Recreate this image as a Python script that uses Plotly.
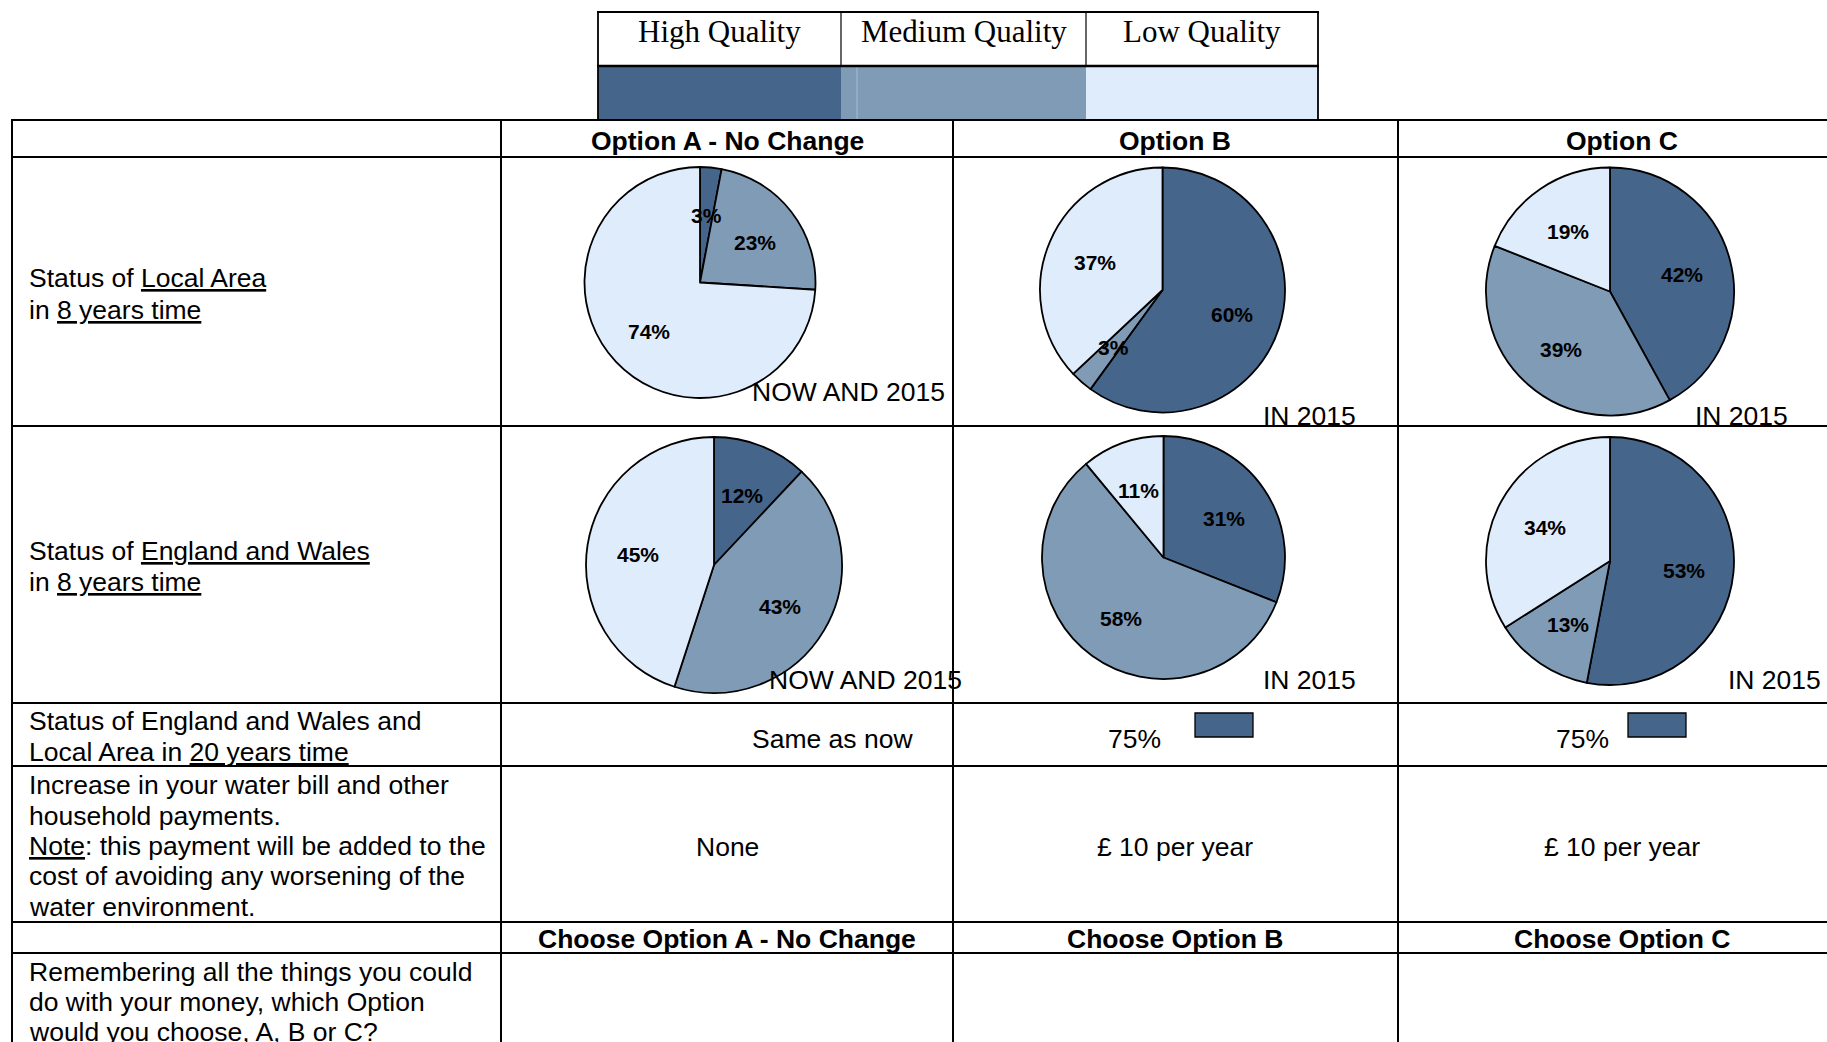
import math
import plotly.graph_objects as go

W, H = 1827, 1042

# ---------------- data ----------------
categories = ["High Quality", "Medium Quality", "Low Quality"]
colors = ["#46658A", "#7F9BB6", "#DFECFC"]

options = ["Option A - No Change", "Option B", "Option C"]
choose_labels = ["Choose Option A - No Change", "Choose Option B", "Choose Option C"]
captions = ["NOW AND 2015", "IN 2015", "IN 2015"]

local_A = [3, 23, 74]
local_B = [60, 3, 37]
local_C = [42, 39, 19]
ew_A = [12, 43, 45]
ew_B = [31, 58, 11]
ew_C = [53, 13, 34]

twenty_year = ["Same as now", "75%", "75%"]
bill = ["None", "£ 10 per year", "£ 10 per year"]

row_labels = [
    ["Status of <u>Local Area</u>", "in <u>8 years time</u>"],
    ["Status of <u>England and Wales</u>", "in <u>8 years time</u>"],
    ["Status of England and Wales and", "Local Area in <u>20 years time</u>"],
    ["Increase in your water bill and other", "household payments.",
     "<u>Note</u>: this payment will be added to the",
     "cost of avoiding any worsening of the", "water environment."],
    ["Remembering all the things you could", "do with your money, which Option",
     "would you choose, A, B or C?"],
]

# ---------------- layout geometry (pixels) ----------------
def X(x):
    return x / W

def Y(y):
    return 1 - y / H

SANS = "Liberation Sans, Arial, sans-serif"
SERIF = "Liberation Serif, Times New Roman, serif"
FS = 26.5

pies = [
    (local_A, 700, 282.5, 115.5, captions[0], (848.5, 392)),
    (local_B, 1162.5, 290, 122.5, captions[1], (1309, 416)),
    (local_C, 1610, 291.5, 124, captions[2], (1741.5, 416)),
    (ew_A, 714, 565, 128, captions[0], (865, 680)),
    (ew_B, 1163.5, 557.5, 121.5, captions[1], (1309, 680)),
    (ew_C, 1610, 561, 124, captions[2], (1774, 680)),
]

fig = go.Figure()
annotations = []
shapes = []

def text(x, y, s, size=FS, family=SANS, xanchor="center"):
    annotations.append(dict(
        x=X(x), y=Y(y), xref="paper", yref="paper", text=s, showarrow=False,
        xanchor=xanchor, yanchor="middle",
        font=dict(family=family, size=size, color="black")))

for vals, cx, cy, r, cap, cpos in pies:
    fig.add_trace(go.Pie(
        values=vals, labels=categories, sort=False, direction="clockwise",
        rotation=0, textinfo="none", hoverinfo="label+percent",
        marker=dict(colors=colors, line=dict(color="black", width=1.8)),
        domain=dict(x=[X(cx - r), X(cx + r)], y=[Y(cy + r), Y(cy - r)]),
        showlegend=False))
    total = sum(vals)
    cum = 0
    for v in vals:
        mid = (cum + v / 2) / total * 2 * math.pi
        cum += v
        f = 0.6
        lx = cx + f * r * math.sin(mid)
        ly = cy - f * r * math.cos(mid)
        text(lx, ly + 2, "<b>%d%%</b>" % round(100 * v / total), size=21)
    text(cpos[0], cpos[1], cap)

# ---------------- legend table ----------------
leg_x = [598, 841, 1086, 1318]
for i, (cat, col) in enumerate(zip(categories, colors)):
    shapes.append(dict(type="rect", xref="paper", yref="paper",
                       x0=X(leg_x[i]), x1=X(leg_x[i + 1]), y0=Y(119), y1=Y(66),
                       fillcolor=col, line=dict(width=0), layer="below"))
    text((leg_x[i] + leg_x[i + 1]) / 2, 32, cat, size=31, family=SERIF)

def line(x0, y0, x1, y1, w=2.0, color="black"):
    shapes.append(dict(type="line", xref="paper", yref="paper",
                       x0=X(x0), y0=Y(y0), x1=X(x1), y1=Y(y1),
                       line=dict(color=color, width=w), layer="above"))

line(857, 67, 857, 119, 1, "#A9BCD0")
line(597, 12, 1319, 12, 2.2)
line(597, 66, 1319, 66, 2.4)
line(598, 12, 598, 120, 1.8)
line(1318, 12, 1318, 120, 1.8)
line(841, 12, 841, 66, 1.2)
line(1086, 12, 1086, 66, 1.2)

# ---------------- main table ----------------
for yy in [120, 157, 426, 703, 766, 922, 953]:
    line(11, yy, 1827, yy, 2.2)
for xx in [12, 501, 953, 1398]:
    line(xx, 119, xx, 1042, 2.0)

col_c = [727, 1175, 1622]
for i in range(3):
    text(col_c[i], 141, "<b>%s</b>" % options[i])
    text(col_c[i], 939, "<b>%s</b>" % choose_labels[i])
    text(col_c[i], 847, bill[i])

text(832, 739, twenty_year[0])
text(1134, 739, twenty_year[1])
text(1582, 739, twenty_year[2])
for x0, x1 in [(1195, 1253), (1628, 1686)]:
    shapes.append(dict(type="rect", xref="paper", yref="paper",
                       x0=X(x0), x1=X(x1), y0=Y(737), y1=Y(713),
                       fillcolor=colors[0], line=dict(color="black", width=1.3),
                       layer="above"))

row_y = [[278, 310], [551, 582], [721, 752], [785, 816, 846, 876, 907],
         [972, 1002, 1032]]
for lines_, ys in zip(row_labels, row_y):
    for s, yy in zip(lines_, ys):
        text(27, yy, s, xanchor="left")

fig.update_layout(
    width=W, height=H, margin=dict(l=0, r=0, t=0, b=0),
    paper_bgcolor="white", plot_bgcolor="white",
    annotations=annotations, shapes=shapes)

fig.write_html(
    "out.html",
    config={"displayModeBar": False},
    post_script=("document.documentElement.style.margin='0';"
                 "document.body.style.margin='0';"
                 "document.documentElement.style.overflow='hidden';"
                 "document.body.style.overflow='hidden';"))
